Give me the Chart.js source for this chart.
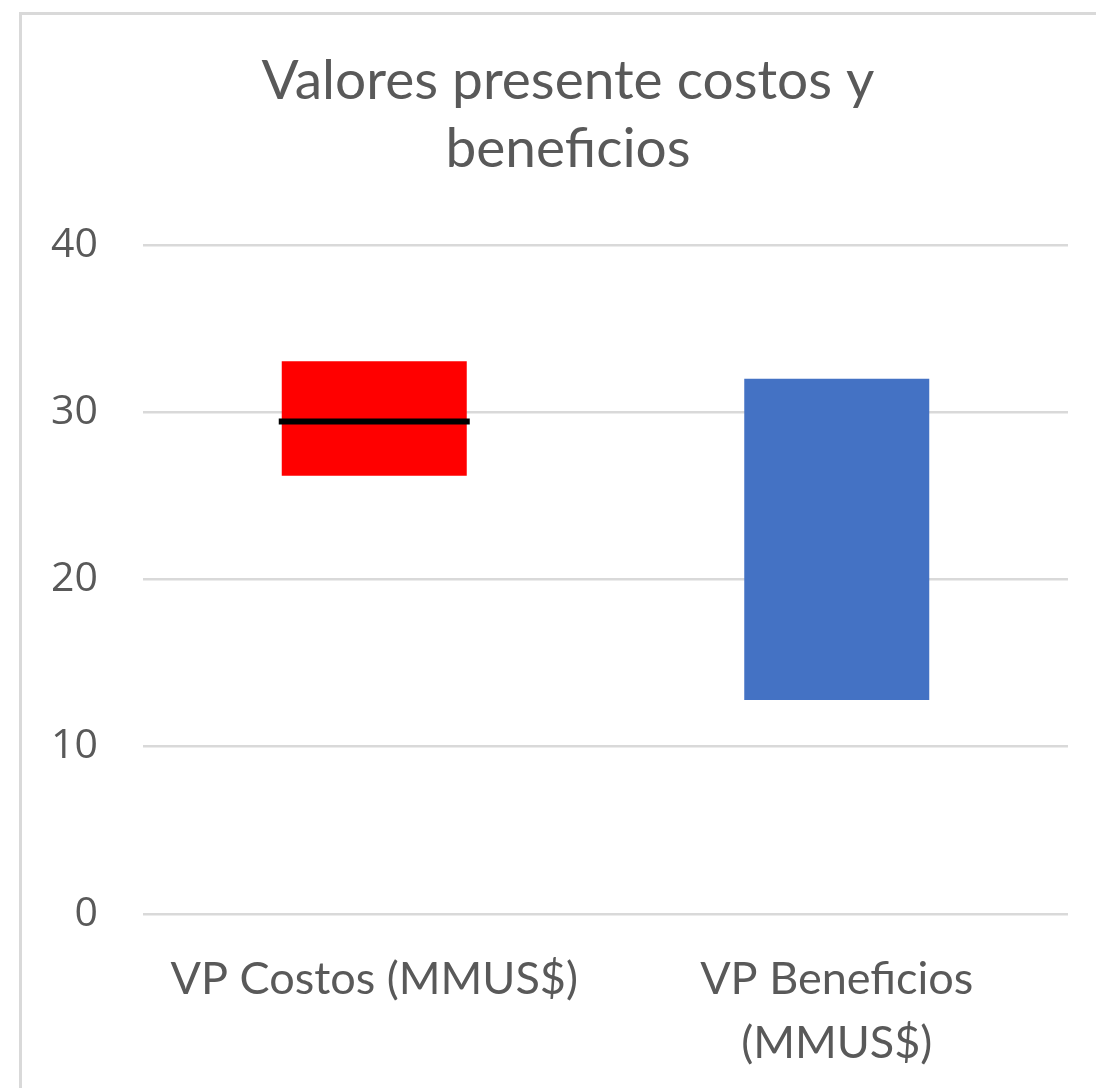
<!DOCTYPE html>
<html>
<head>
<meta charset="utf-8">
<script src="https://cdn.jsdelivr.net/npm/chart.js@4.4.1/dist/chart.umd.min.js"></script>
<style>
    html, body { margin: 0; padding: 0; background: #fff; overflow: hidden; width: 1096px; height: 1088px; }
    #caja {
        position: absolute; left: 19px; top: 12px;
        width: 1100px; height: 1090px;
        border: 3px solid #d9d9d9; box-sizing: border-box; background: #fff;
    }
    #lienzo { position: absolute; left: 0; top: 0; width: 1092px; height: 1076px; }
</style>
</head>
<body>
<div id="caja"><div id="lienzo"><canvas id="grafico"></canvas></div></div>
<script>
// DATOS
const categorias = [["VP Costos (MMUS$)"], ["VP Beneficios", "(MMUS$)"]];
const minimos = [26.2, 12.8];
const maximos = [33.05, 32.0];
const medios = [29.45, null];
const colores = ["#FF0000", "#4472C4"];
const marcasY = [0, 10, 20, 30, 40];

const gris = "#595959";

new Chart(document.getElementById("grafico"), {
    data: {
        labels: categorias,
        datasets: [{
            type: "line",
            label: "Medio",
            data: medios,
            showLine: false,
            pointStyle: "line",
            pointRadius: 95.5,
            pointHoverRadius: 95.5,
            pointBorderWidth: 6,
            pointBorderColor: "#000",
            borderColor: "#000",
            clip: false,
            order: 0
        }, {
            type: "bar",
            label: "Rango",
            data: minimos.map((m, i) => [m, maximos[i]]),
            backgroundColor: colores,
            categoryPercentage: 1,
            barPercentage: 0.4,
            order: 1
        }]
    },
    options: {
        responsive: true,
        maintainAspectRatio: false,
        animation: false,
        layout: { padding: 0, autoPadding: false },
        plugins: {
            legend: { display: false },
            tooltip: { enabled: false },
            title: {
                display: true,
                text: ["Valores presente costos y", "beneficios"],
                color: gris,
                font: { family: "Lato", size: 55, weight: "normal", lineHeight: 1.24 },
                padding: { top: 32, bottom: 61.5 }
            }
        },
        scales: {
            x: {
                grid: { display: false },
                border: { display: false },
                ticks: {
                    color: gris,
                    font: { family: "Lato", size: 45, lineHeight: 1.42 },
                    padding: 26,
                    maxRotation: 0
                },
                afterFit: s => {
                    s.height = 177;
                    s.paddingLeft = 0;
                    s.paddingRight = 46;
                }
            },
            y: {
                min: 0,
                max: 40,
                afterBuildTicks: s => { s.ticks = marcasY.map(v => ({ value: v })); },
                grid: { color: "#d9d9d9", lineWidth: 2.5, drawTicks: false },
                border: { display: false },
                ticks: {
                    color: gris,
                    font: { family: "Open Sans", size: 41 },
                    padding: 45
                },
                afterFit: s => { s.width = 121; }
            }
        }
    }
});
</script>
</body>
</html>
